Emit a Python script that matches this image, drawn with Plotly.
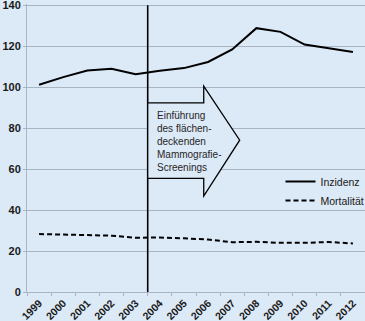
import plotly.graph_objects as go

years = [str(y) for y in range(1999, 2013)]
inzidenz = [101.2, 104.9, 108.1, 109.0, 106.3, 108.0, 109.3, 112.3, 118.4, 128.8, 127.0, 120.8, 119.0, 117.2]
mortalitaet = [28.3, 28.0, 27.6, 27.5, 26.5, 26.6, 26.2, 25.6, 24.3, 24.5, 24.0, 24.0, 24.4, 23.7]
y_ticks = [0, 20, 40, 60, 80, 100, 120, 140]
arrow_text = "Einführung<br>des flächen-<br>deckenden<br>Mammografie-<br>Screenings"

bg = "#DCE9F6"
grid = "#A9B5C3"

fig = go.Figure()
fig.add_trace(go.Scatter(x=years, y=inzidenz, mode="lines", name="Inzidenz",
                         line=dict(color="black", width=2)))
fig.add_trace(go.Scatter(x=years, y=mortalitaet, mode="lines", name="Mortalität",
                         line=dict(color="black", width=2, dash="5px,3px")))

# vertical marker between 2003 and 2004
fig.add_shape(type="line", x0=4.5, x1=4.5, y0=0, y1=140, xref="x", yref="y",
              line=dict(color="black", width=1.6), layer="above")
# arrow
fig.add_shape(type="path",
              path="M 4.5,92.3 L 6.82,92.3 L 6.82,100.5 L 8.31,74.1 L 6.82,46.8 L 6.82,55.5 L 4.5,55.5 Z",
              xref="x", yref="y", fillcolor=bg, line=dict(color="black", width=1.3), layer="above")
fig.add_annotation(x=4.81, y=73.7, xref="x", yref="y", text=arrow_text, showarrow=False,
                   xanchor="left", yanchor="middle", align="left",
                   font=dict(family="Liberation Sans, Arial", size=10, color="#262626"))

fig.update_layout(
    width=365, height=321,
    margin=dict(l=27, r=0, t=4, b=29, autoexpand=False),
    paper_bgcolor=bg, plot_bgcolor=bg,
    showlegend=True,
    legend=dict(x=0.75, y=0.434, xanchor="left", yanchor="top", bgcolor="rgba(0,0,0,0)",
                font=dict(family="Liberation Sans, Arial", size=10.5, color="#1a1a1a"),
                tracegroupgap=0),
    font=dict(family="Liberation Sans, Arial"),
)
fig.update_xaxes(type="category", range=[-0.5, 13.5], tickangle=-45, tickson="boundaries",
                 ticks="outside", ticklen=3, tickcolor=grid, showgrid=False, automargin=False,
                 showline=True, linecolor=grid, linewidth=1,
                 tickfont=dict(family="Liberation Sans, Arial", size=10.5, color="#1a1a1a", weight="bold"))
fig.update_yaxes(range=[0, 140.6], tickvals=y_ticks, ticks="outside", ticklen=3, tickcolor=grid,
                 showgrid=True, gridcolor=grid, gridwidth=1, zeroline=False, automargin=False,
                 ticklabeloverflow="allow",
                 showline=True, linecolor=grid, linewidth=1,
                 tickfont=dict(family="Liberation Sans, Arial", size=11, color="#1a1a1a", weight="bold"))

fig.write_html("out.html", config={"displayModeBar": False},
               post_script="document.body.style.margin='0';document.body.style.background='" + bg + "';")
